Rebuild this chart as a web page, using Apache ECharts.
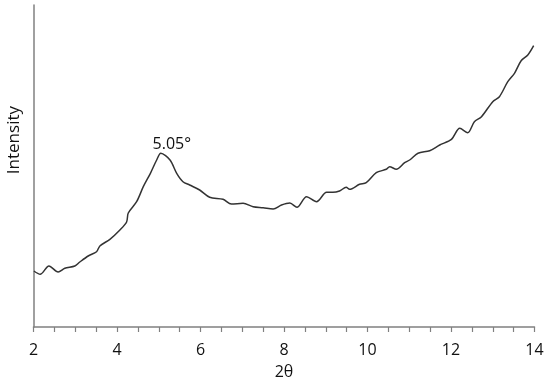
<!DOCTYPE html>
<html>
<head>
<meta charset="utf-8">
<script src="https://cdn.jsdelivr.net/npm/echarts@6/dist/echarts.min.js"></script>
<style>
  html, body { margin: 0; padding: 0; background: #fff; }
  #main { width: 550px; height: 385px; }
</style>
</head>
<body>
<div id="main"></div>
<script>
// 2theta (deg)
var twoTheta = [2.01, 2.16, 2.37, 2.59, 2.75, 2.99, 3.11, 3.31, 3.51, 3.59, 3.83, 4.07, 4.23, 4.27, 4.47,
  4.63, 4.80, 4.95, 5.05, 5.27, 5.43, 5.58, 5.74, 5.98, 6.22, 6.54, 6.74, 7.02, 7.26, 7.50, 7.74, 7.94,
  8.14, 8.31, 8.54, 8.78, 9.02, 9.17, 9.33, 9.49, 9.57, 9.81, 9.97, 10.21, 10.45, 10.53, 10.69, 10.89,
  11.01, 11.21, 11.49, 11.73, 12.01, 12.21, 12.40, 12.56, 12.73, 13.00, 13.16, 13.36, 13.52, 13.68,
  13.84, 13.98];
// intensity, arbitrary units
var intensity = [56, 52.7, 61, 55, 58.7, 61, 65, 71, 75.3, 81, 87.7, 97, 105, 114, 125.3,
  140.3, 153.7, 167, 173.7, 167, 153.7, 145.3, 142, 137, 129.7, 127.7, 123, 123.7, 120.3, 119.3, 118, 122,
  124, 119.7, 130.3, 125.3, 134.7, 134.7, 136, 139.7, 137.7, 142.7, 144.3, 154.3, 157.7, 160.3, 157.7, 164.3,
  167, 173.7, 176.3, 182, 187.7, 198.7, 194.3, 205.3, 210.3, 225.3, 230.3, 245.3, 253.7, 266.3,
  272, 281.3];
var peakX = 5.05;
var peakLabel = '5.05°';

var chart = echarts.init(document.getElementById('main'));
var font = 'Open Sans';
chart.setOption({
  animation: false,
  backgroundColor: '#fff',
  grid: { left: 33.5, right: 15.5, top: 5, bottom: 58 },
  xAxis: {
    type: 'value',
    min: 2, max: 14, interval: 2,
    name: '2θ',
    nameLocation: 'middle',
    nameGap: 37,
    nameTextStyle: { fontFamily: font, fontSize: 16, color: '#111' },
    axisLine: { lineStyle: { color: '#808080', width: 1.5 } },
    axisTick: { show: true, length: 5, lineStyle: { color: '#808080', width: 1.2 } },
    minorTick: { show: true, splitNumber: 4, length: 5, lineStyle: { color: '#808080', width: 1.2 } },
    axisLabel: { fontFamily: font, fontSize: 16, color: '#111', margin: 15 },
    splitLine: { show: false }
  },
  yAxis: {
    type: 'value',
    min: 0, max: 322,
    axisLine: { show: true, lineStyle: { color: '#808080', width: 1.5 } },
    axisTick: { show: false },
    axisLabel: { show: false },
    splitLine: { show: false }
  },
  graphic: [{
    type: 'text',
    left: 6, top: 106,
    rotation: Math.PI / 2,
    style: { text: 'Intensity', font: '17px "Open Sans"', fill: '#111' }
  }],
  series: [{
    type: 'line',
    data: twoTheta.map(function (x, i) { return [x, intensity[i]]; }),
    smooth: 0.3,
    showSymbol: false,
    lineStyle: { color: '#333', width: 1.5 },
    markPoint: {
      symbol: 'circle',
      symbolSize: 0,
      data: [{ coord: [peakX, intensity[twoTheta.indexOf(peakX)]] }],
      label: {
        show: true,
        formatter: peakLabel,
        position: 'top',
        offset: [11, 4],
        fontFamily: font,
        fontSize: 16,
        color: '#111'
      }
    }
  }]
});
</script>
</body>
</html>
